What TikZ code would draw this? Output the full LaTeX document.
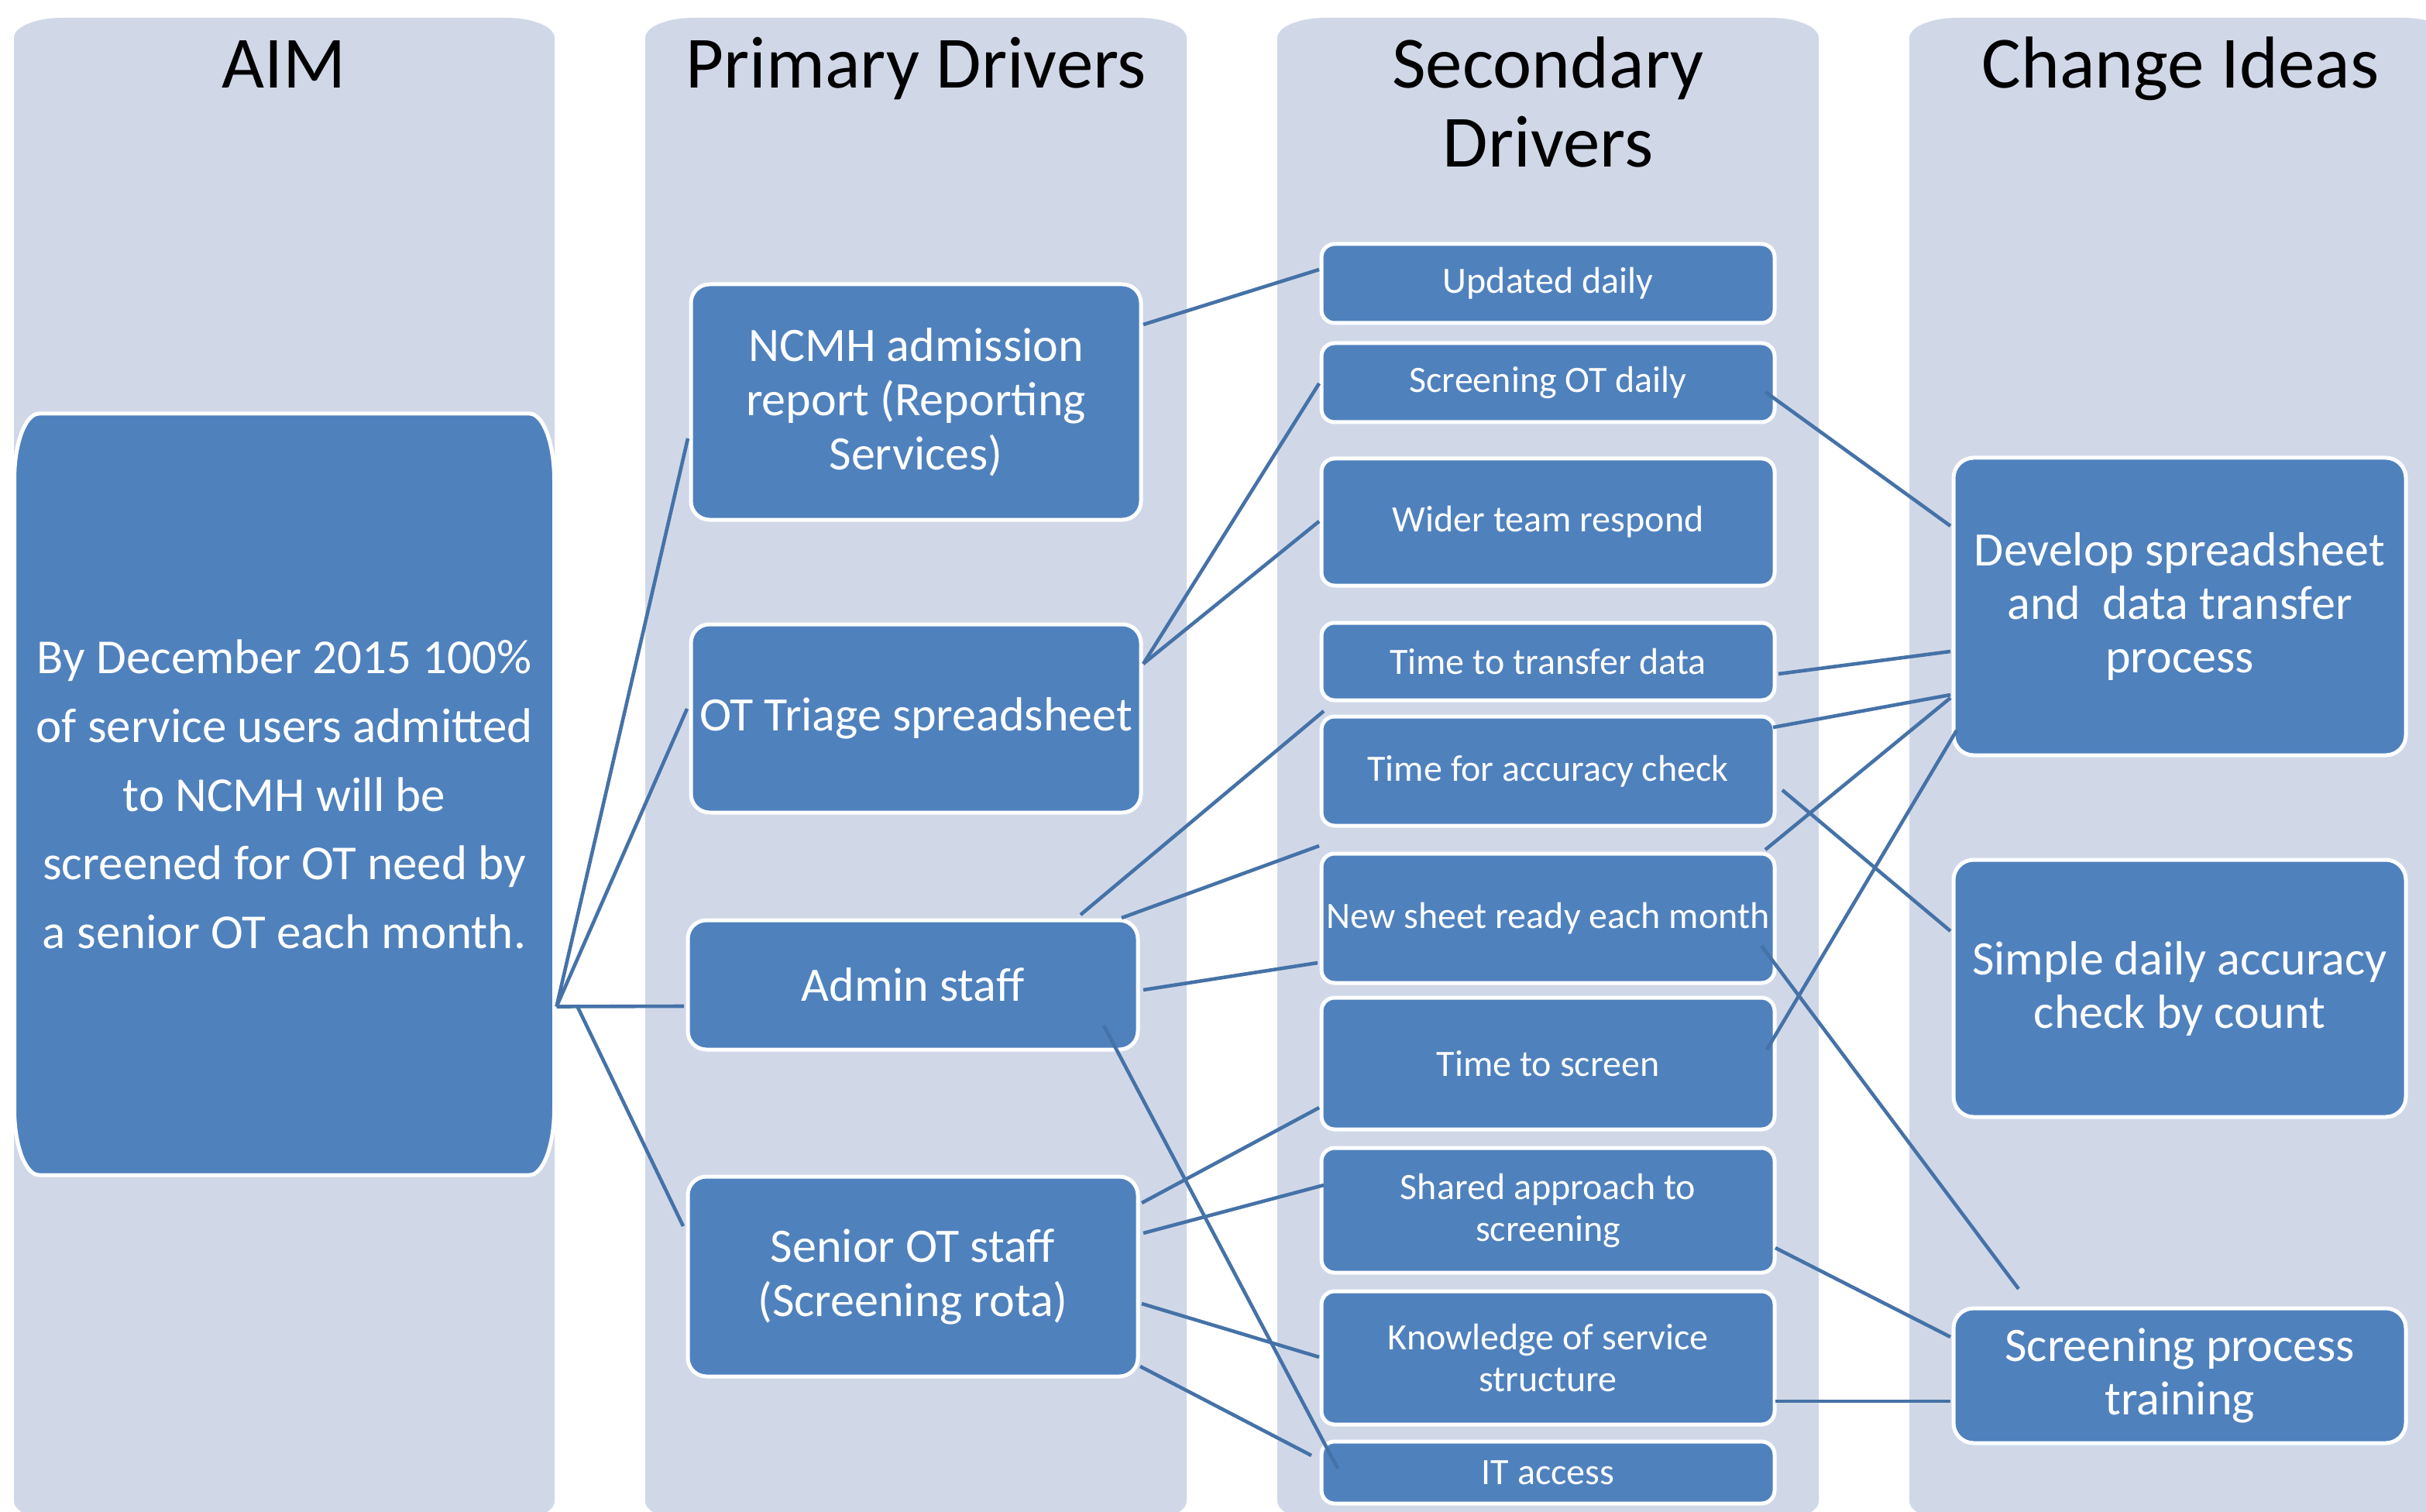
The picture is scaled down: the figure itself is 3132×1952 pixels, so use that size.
\documentclass[tikz,border=0pt]{standalone}
\usepackage{fontspec}
\setmainfont{Carlito}
\usetikzlibrary{calc}

\definecolor{panelfill}{RGB}{208,216,232}
\definecolor{boxblue}{RGB}{79,129,189}
\definecolor{linkblue}{RGB}{69,114,167}

% rectangle with elliptical corners: style, x0, y0, x1, y1, rx, ry
\newcommand\softpanel[7]{%
  \path[#1] ({#2},{#3+#7}) .. controls ({#2},{#3+0.448*#7}) and ({#2+0.448*#6},{#3}) .. ({#2+#6},{#3})
    -- ({#4-#6},{#3}) .. controls ({#4-0.448*#6},{#3}) and ({#4},{#3+0.448*#7}) .. ({#4},{#3+#7})
    -- ({#4},{#5-#7}) .. controls ({#4},{#5-0.448*#7}) and ({#4-0.448*#6},{#5}) .. ({#4-#6},{#5})
    -- ({#2+#6},{#5}) .. controls ({#2+0.448*#6},{#5}) and ({#2},{#5-0.448*#7}) .. ({#2},{#5-#7}) -- cycle;}

\begin{document}
\begin{tikzpicture}[x=0.5pt,y=-0.5pt,
  head/.style={font=\fontsize{47.5}{51}\selectfont, align=center, anchor=base, inner sep=0pt},
  boxbase/.style={rectangle, fill=boxblue, draw=white, line width=2.5pt, text=white,
                  align=center, inner sep=0pt, outer sep=0pt},
  bigbox/.style={boxbase, rounded corners=12pt, minimum width=290.5pt, font=\fontsize{31}{35}\selectfont},
  secbox/.style={boxbase, rounded corners=8.5pt, minimum width=292.5pt, font=\fontsize{24}{27}\selectfont},
  ideabox/.style={boxbase, rounded corners=13pt, minimum width=292pt, font=\fontsize{31}{34.5}\selectfont},
  conn/.style={draw=linkblue, line width=2.3pt}]

\useasboundingbox (0,0) rectangle (3132,1952);

% column panels
\softpanel{fill=panelfill}{18}{23}{716}{1964}{62}{26}
\softpanel{fill=panelfill}{833}{23}{1532}{1964}{62}{26}
\softpanel{fill=panelfill}{1649}{23}{2348}{1964}{62}{26}
\softpanel{fill=panelfill}{2465}{23}{3164}{1964}{62}{26}

% column headings (base anchor sits on the last line)
\node[head] (hAim) at (367,114) {AIM};
\node[head] (hPrim) at (1182.5,114) {Primary Drivers};
\node[head] (hSec) at (1998.5,216) {Secondary\\Drivers};
\node[head] (hIdea) at (2815,114) {Change Ideas};

% aim
\softpanel{fill=boxblue, draw=white, line width=2.5pt}{18.5}{534}{715.5}{1517}{32}{85}
\node[rectangle, inner sep=0pt, outer sep=0pt, minimum width=348.5pt, minimum height=491.5pt,
      text=white, align=center, font=\fontsize{31.5}{44.3}\selectfont]
  (aim) at (367,1025.5) {By December 2015 100\%\\of service users admitted\\to NCMH will be\\screened for OT need by\\a senior OT each month.};

% primary drivers
\node[bigbox, minimum height=152pt] (ncmh) at (1182.5,519) {NCMH admission\\report (Reporting\\Services)};
\node[bigbox, minimum height=121.5pt] (triage) at (1182.5,927.5) {OT Triage spreadsheet};
\node[bigbox, minimum height=83.5pt] (admin) at (1178.5,1271.5) {Admin staff};
\node[bigbox, minimum height=129pt] (senior) at (1178.5,1648) {Senior OT staff\\(Screening rota)};

% secondary drivers
\node[secbox, minimum height=51pt] (upd) at (1998.5,366) {Updated daily};
\node[secbox, minimum height=51pt] (scr) at (1998.5,494) {Screening OT daily};
\node[secbox, minimum height=82pt] (wider) at (1998.5,674) {Wider team respond};
\node[secbox, minimum height=50pt] (transfer) at (1998.5,854) {Time to transfer data};
\node[secbox, minimum height=70.5pt] (accuracy) at (1998.5,995.5) {Time for accuracy check};
\node[secbox, minimum height=83.5pt] (newsheet) at (1998.5,1185.5) {New sheet ready each month};
\node[secbox, minimum height=85pt] (tscreen) at (1998.5,1373) {Time to screen};
\node[secbox, minimum height=80.5pt] (shared) at (1998.5,1562.5) {Shared approach to\\screening};
\node[secbox, minimum height=86pt] (knowledge) at (1998.5,1753) {Knowledge of service\\structure};
\node[secbox, minimum height=40pt] (itaccess) at (1998.5,1901) {IT access};

% change ideas
\node[ideabox, minimum height=192pt] (develop) at (2814,783) {Develop spreadsheet\\and\ \ data transfer\\process};
\node[ideabox, minimum height=166pt] (simple) at (2814,1276) {Simple daily accuracy\\check by count};
\node[ideabox, minimum height=87pt] (training) at (2814,1776) {Screening process\\training};

% aim to primary drivers
\coordinate (hub) at ($(aim.east)+(3,274)$);
\draw[conn] (hub) -- ($(ncmh.west)+(-4,47)$);
\draw[conn] (hub) -- ($(triage.west)+(-5,-12.5)$);
\draw[conn] (hub) -- ($(admin.west)+(-5,27.5)$);
\draw[conn] ($(aim.east)+(29,272)$) -- ($(senior.west)+(-6,-65)$);

% primary to secondary drivers
\draw[conn] ($(ncmh.east)+(3,-100)$) -- ($(upd.west)+(-3,-18)$);
\draw[conn] ($(triage.east)+(3,-70.5)$) -- ($(scr.west)+(-3,1)$);
\draw[conn] ($(triage.east)+(3,-70.5)$) -- ($(wider.west)+(-3,-1)$);
\draw[conn] ($(admin.north)+(216.5,-7)$) -- ($(accuracy.north west)+(3,-7)$);
\draw[conn] ($(admin.north)+(269.5,-3)$) -- ($(newsheet.north west)+(-3,-10)$);
\draw[conn] ($(admin.east)+(7,6.5)$) -- ($(newsheet.west)+(-5,57.5)$);
\draw[conn] ($(admin.east)+(-44,52.5)$) -- ($(itaccess.west)+(21,-5)$);
\draw[conn] ($(senior.east)+(5,-95)$) -- ($(tscreen.west)+(-3,57)$);
\draw[conn] ($(senior.east)+(7,-56)$) -- ($(shared.west)+(3,-32.5)$);
\draw[conn] ($(senior.east)+(5,35)$) -- ($(knowledge.west)+(-3,-1)$);
\draw[conn] ($(senior.east)+(3,116)$) -- ($(itaccess.west)+(-13,-22)$);

% secondary drivers to change ideas
\draw[conn] ($(scr.east)+(-12,12)$) -- ($(develop.west)+(-4,-104)$);
\draw[conn] ($(transfer.east)+(5,16)$) -- ($(develop.west)+(-4,58)$);
\draw[conn] ($(accuracy.north east)+(-2,14)$) -- ($(develop.west)+(-4,114)$);
\draw[conn] ($(newsheet.north east)+(-12,-5)$) -- ($(develop.west)+(-4,118)$);
\draw[conn] ($(tscreen.east)+(-10,-18)$) -- ($(develop.west)+(4,160)$);
\draw[conn] ($(accuracy.east)+(10,24.5)$) -- ($(simple.west)+(-4,-74)$);
\draw[conn] ($(newsheet.east)+(-17,35.5)$) -- ($(training.north west)+(84,-25)$);
\draw[conn] ($(shared.east)+(1,48.5)$) -- ($(training.west)+(-4,-50)$);
\draw[conn] ($(knowledge.east)+(1,56)$) -- ($(training.west)+(-4,33)$);

\end{tikzpicture}
\end{document}
